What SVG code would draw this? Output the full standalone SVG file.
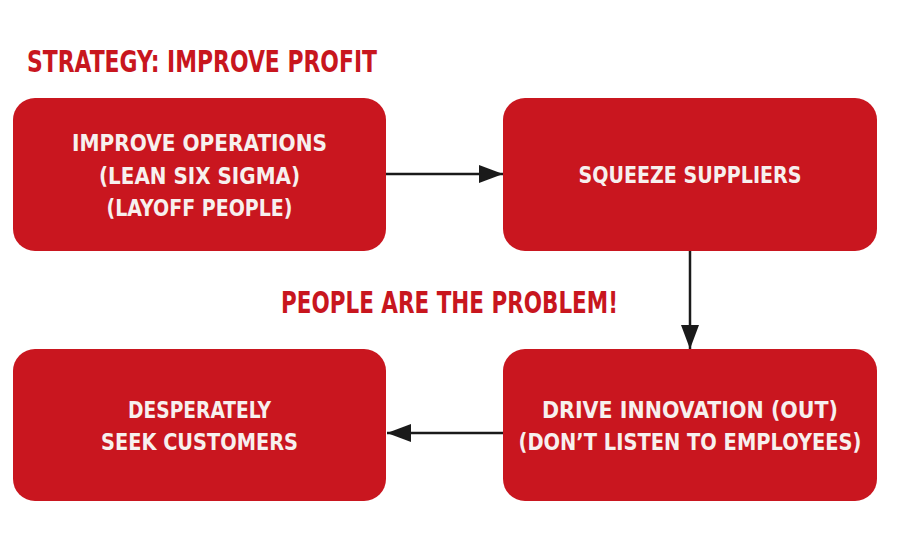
<svg xmlns="http://www.w3.org/2000/svg" width="900" height="550" viewBox="0 0 900 550">
<defs>
<style>
.box{fill:#c9161f;}
.t{font-family:"DejaVu Sans Condensed","DejaVu Sans",sans-serif;font-weight:bold;fill:#f7f0ee;font-size:23.5px;text-anchor:middle;}
.h{font-family:"DejaVu Sans Condensed","DejaVu Sans",sans-serif;font-weight:bold;fill:#c8161e;font-size:29.5px;}
.c{stroke:#1a1a1a;stroke-width:2.5;fill:none;}
</style>
<marker id="ah" viewBox="0 0 24 18" refX="24" refY="9" markerWidth="24" markerHeight="18" markerUnits="userSpaceOnUse" orient="auto">
<path d="M0,0 L24,9 L0,18 z" fill="#1a1a1a"/>
</marker>
</defs>
<rect width="900" height="550" fill="#ffffff"/>
<text class="h" x="27" y="72" textLength="350" lengthAdjust="spacingAndGlyphs">STRATEGY: IMPROVE PROFIT</text>
<text class="h" x="281" y="313" textLength="337" lengthAdjust="spacingAndGlyphs">PEOPLE ARE THE PROBLEM!</text>
<g id="connectors">
<line class="c" x1="386" y1="174" x2="503" y2="174" marker-end="url(#ah)"/>
<line class="c" x1="690" y1="251" x2="690" y2="349" marker-end="url(#ah)"/>
<line class="c" x1="503" y1="433" x2="387" y2="433" marker-end="url(#ah)"/>
</g>
<g id="n1">
<rect class="box" x="13" y="98" width="373" height="153" rx="22"/>
<text class="t" x="199.5" y="151" textLength="255" lengthAdjust="spacingAndGlyphs">IMPROVE OPERATIONS</text>
<text class="t" x="199.5" y="184" textLength="201" lengthAdjust="spacingAndGlyphs">(LEAN SIX SIGMA)</text>
<text class="t" x="199.5" y="216" textLength="186" lengthAdjust="spacingAndGlyphs">(LAYOFF PEOPLE)</text>
</g>
<g id="n2">
<rect class="box" x="503" y="98" width="374" height="153" rx="22"/>
<text class="t" x="690" y="183" textLength="223" lengthAdjust="spacingAndGlyphs">SQUEEZE SUPPLIERS</text>
</g>
<g id="n3">
<rect class="box" x="503" y="349" width="374" height="152" rx="22"/>
<text class="t" x="690" y="418" textLength="296" lengthAdjust="spacingAndGlyphs">DRIVE INNOVATION (OUT)</text>
<text class="t" x="690" y="450" textLength="343" lengthAdjust="spacingAndGlyphs">(DON’T LISTEN TO EMPLOYEES)</text>
</g>
<g id="n4">
<rect class="box" x="13" y="349" width="373" height="152" rx="22"/>
<text class="t" x="199.5" y="418" textLength="143" lengthAdjust="spacingAndGlyphs">DESPERATELY</text>
<text class="t" x="199.5" y="450" textLength="197" lengthAdjust="spacingAndGlyphs">SEEK CUSTOMERS</text>
</g>
</svg>
